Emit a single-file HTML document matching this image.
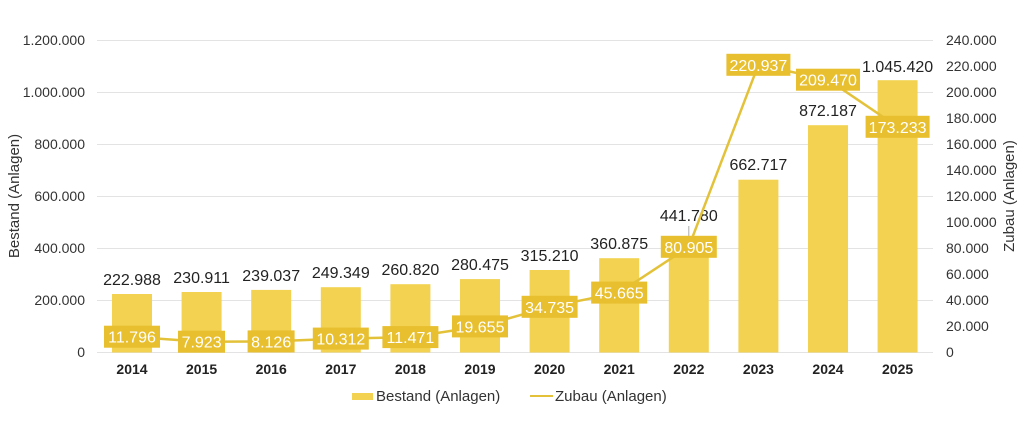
<!DOCTYPE html>
<html><head><meta charset="utf-8"><style>
html,body{margin:0;padding:0;background:#fff;}
svg{display:block;font-family:"Liberation Sans",Arial,sans-serif;}
</style></head><body>
<svg width="1024" height="431" viewBox="0 0 1024 431">
<g stroke="#e3e3e3" stroke-width="1">
<line x1="97" x2="933" y1="40.5" y2="40.5"/>
<line x1="97" x2="933" y1="92.5" y2="92.5"/>
<line x1="97" x2="933" y1="144.5" y2="144.5"/>
<line x1="97" x2="933" y1="196.5" y2="196.5"/>
<line x1="97" x2="933" y1="248.5" y2="248.5"/>
<line x1="97" x2="933" y1="300.5" y2="300.5"/>
<line x1="97" x2="933" y1="352.5" y2="352.5"/>
</g>
<g font-size="14" fill="#333" text-anchor="end">
<text x="85" y="45">1.200.000</text>
<text x="85" y="97">1.000.000</text>
<text x="85" y="149">800.000</text>
<text x="85" y="201">600.000</text>
<text x="85" y="253">400.000</text>
<text x="85" y="305">200.000</text>
<text x="85" y="357">0</text>
</g>
<g font-size="14" fill="#333">
<text x="946" y="45">240.000</text>
<text x="946" y="71">220.000</text>
<text x="946" y="97">200.000</text>
<text x="946" y="123">180.000</text>
<text x="946" y="149">160.000</text>
<text x="946" y="175">140.000</text>
<text x="946" y="201">120.000</text>
<text x="946" y="227">100.000</text>
<text x="946" y="253">80.000</text>
<text x="946" y="279">60.000</text>
<text x="946" y="305">40.000</text>
<text x="946" y="331">20.000</text>
<text x="946" y="357">0</text>
</g>
<text transform="translate(19,196) rotate(-90)" font-size="15" fill="#333" text-anchor="middle">Bestand (Anlagen)</text>
<text transform="translate(1014,196) rotate(-90)" font-size="15" fill="#333" text-anchor="middle">Zubau (Anlagen)</text>
<g fill="#f2d250">
<rect x="112" y="294" width="40" height="58.5"/>
<rect x="181.6" y="292" width="40" height="60.5"/>
<rect x="251.2" y="289.9" width="40" height="62.6"/>
<rect x="320.8" y="287.2" width="40" height="65.3"/>
<rect x="390.4" y="284.2" width="40" height="68.3"/>
<rect x="460" y="279.1" width="40" height="73.4"/>
<rect x="529.6" y="270" width="40" height="82.5"/>
<rect x="599.2" y="258.2" width="40" height="94.3"/>
<rect x="668.8" y="237.1" width="40" height="115.4"/>
<rect x="738.4" y="179.7" width="40" height="172.8"/>
<rect x="808" y="125.2" width="40" height="227.3"/>
<rect x="877.6" y="80.2" width="40" height="272.3"/>
</g>
<g font-size="16" fill="#222" text-anchor="middle">
<text x="132" y="285">222.988</text>
<text x="201.6" y="283">230.911</text>
<text x="271.2" y="281">239.037</text>
<text x="340.8" y="278">249.349</text>
<text x="410.4" y="275">260.820</text>
<text x="480" y="270">280.475</text>
<text x="549.6" y="261">315.210</text>
<text x="619.2" y="249">360.875</text>
<text x="688.8" y="221">441.780</text>
<text x="758.4" y="170">662.717</text>
<text x="828" y="116">872.187</text>
<text x="897.6" y="72">1.045.420</text>
</g>
<line x1="688.8" y1="226" x2="688.8" y2="236" stroke="#aaa" stroke-width="1"/>
<polyline fill="none" stroke="#e3c23a" stroke-width="2.5" points="132,336.7 201.6,341.7 271.2,341.4 340.8,338.6 410.4,337.1 480,326.4 549.6,306.8 619.2,292.6 688.8,246.8 758.4,64.8 828,79.7 897.6,126.8"/>
<g fill="#e8bf2e">
<rect x="104" y="325.7" width="56" height="22"/>
<rect x="178" y="330.7" width="47" height="22"/>
<rect x="247.6" y="330.4" width="47" height="22"/>
<rect x="312.8" y="327.6" width="56" height="22"/>
<rect x="382.4" y="326.1" width="56" height="22"/>
<rect x="452" y="315.4" width="56" height="22"/>
<rect x="521.6" y="295.8" width="56" height="22"/>
<rect x="591.2" y="281.6" width="56" height="22"/>
<rect x="660.8" y="235.8" width="56" height="22"/>
<rect x="726.4" y="53.8" width="64" height="22"/>
<rect x="796" y="68.7" width="64" height="22"/>
<rect x="865.6" y="115.8" width="64" height="22"/>
</g>
<g font-size="16" fill="#fff" text-anchor="middle">
<text x="132" y="342.7">11.796</text>
<text x="201.6" y="347.7">7.923</text>
<text x="271.2" y="347.4">8.126</text>
<text x="340.8" y="344.6">10.312</text>
<text x="410.4" y="343.1">11.471</text>
<text x="480" y="332.4">19.655</text>
<text x="549.6" y="312.8">34.735</text>
<text x="619.2" y="298.6">45.665</text>
<text x="688.8" y="252.8">80.905</text>
<text x="758.4" y="70.8">220.937</text>
<text x="828" y="85.7">209.470</text>
<text x="897.6" y="132.8">173.233</text>
</g>
<g font-size="14" font-weight="bold" fill="#222" text-anchor="middle">
<text x="132" y="374">2014</text>
<text x="201.6" y="374">2015</text>
<text x="271.2" y="374">2016</text>
<text x="340.8" y="374">2017</text>
<text x="410.4" y="374">2018</text>
<text x="480" y="374">2019</text>
<text x="549.6" y="374">2020</text>
<text x="619.2" y="374">2021</text>
<text x="688.8" y="374">2022</text>
<text x="758.4" y="374">2023</text>
<text x="828" y="374">2024</text>
<text x="897.6" y="374">2025</text>
</g>
<rect x="352" y="393" width="21" height="7" fill="#f2d250"/>
<text x="376" y="401" font-size="15" fill="#333">Bestand (Anlagen)</text>
<line x1="530" x2="553" y1="396" y2="396" stroke="#e3c23a" stroke-width="2"/>
<text x="555" y="401" font-size="15" fill="#333">Zubau (Anlagen)</text>
</svg>
</body></html>
